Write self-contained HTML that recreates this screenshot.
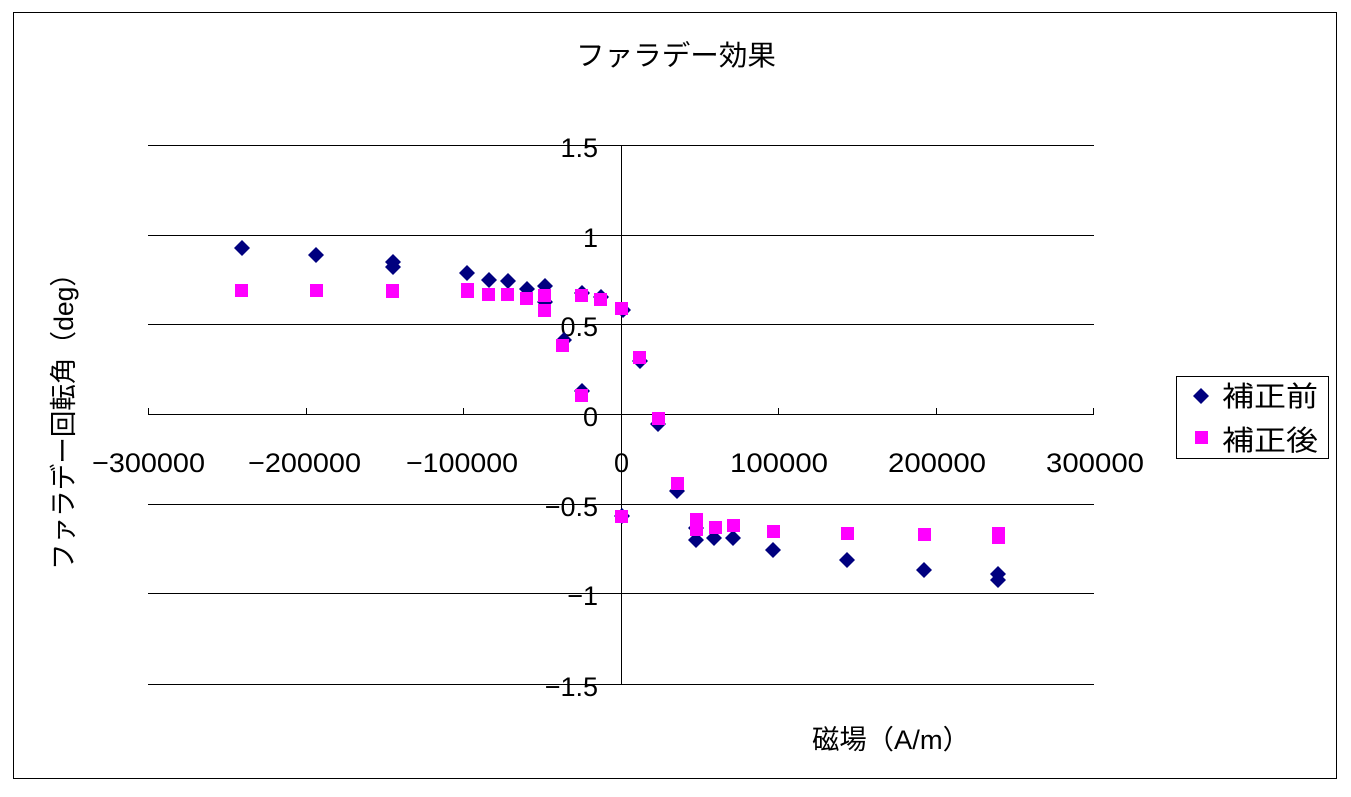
<!DOCTYPE html>
<html><head><meta charset="utf-8"><style>
body{margin:0;background:#fff}
svg text{font-family:"Liberation Sans","Noto Sans CJK JP",sans-serif;fill:#000}
</style></head><body>
<svg width="1351" height="792" xmlns="http://www.w3.org/2000/svg">
<rect x="0" y="0" width="1351" height="792" fill="#fff"/>
<rect x="13.5" y="12.5" width="1323" height="766" fill="none" stroke="#000" stroke-width="1"/>
<text x="576" y="65" font-size="28" textLength="200" lengthAdjust="spacingAndGlyphs">ファラデー効果</text>
<g stroke="#000" stroke-width="1">
<line x1="148" y1="145.5" x2="1094" y2="145.5"/>
<line x1="148" y1="235.5" x2="1094" y2="235.5"/>
<line x1="148" y1="324.5" x2="1094" y2="324.5"/>
<line x1="148" y1="414.5" x2="1094" y2="414.5"/>
<line x1="148" y1="504.5" x2="1094" y2="504.5"/>
<line x1="148" y1="593.5" x2="1094" y2="593.5"/>
<line x1="148" y1="684.5" x2="1094" y2="684.5"/>
<line x1="621.5" y1="145" x2="621.5" y2="684"/>
<line x1="148.5" y1="408" x2="148.5" y2="414"/>
<line x1="306.5" y1="408" x2="306.5" y2="414"/>
<line x1="463.5" y1="408" x2="463.5" y2="414"/>
<line x1="778.5" y1="408" x2="778.5" y2="414"/>
<line x1="936.5" y1="408" x2="936.5" y2="414"/>
<line x1="1093.5" y1="408" x2="1093.5" y2="414"/>
</g>
<g font-size="27" text-anchor="end">
<text x="598" y="157">1.5</text>
<text x="598" y="247">1</text>
<text x="598" y="336">0.5</text>
<text x="598" y="426">0</text>
<text x="598" y="516">−0.5</text>
<text x="598" y="605">−1</text>
<text x="598" y="696">−1.5</text>
</g>
<g font-size="27">
<text x="92" y="472" textLength="113" lengthAdjust="spacingAndGlyphs">−300000</text>
<text x="248" y="472" textLength="113" lengthAdjust="spacingAndGlyphs">−200000</text>
<text x="406" y="472" textLength="112" lengthAdjust="spacingAndGlyphs">−100000</text>
<text x="614" y="472">0</text>
<text x="730" y="472" textLength="98" lengthAdjust="spacingAndGlyphs">100000</text>
<text x="888" y="472" textLength="98" lengthAdjust="spacingAndGlyphs">200000</text>
<text x="1046" y="472" textLength="98" lengthAdjust="spacingAndGlyphs">300000</text>
</g>
<text x="812" y="749" font-size="27" textLength="158" lengthAdjust="spacingAndGlyphs">磁場（A/m）</text>
<text transform="translate(73,570) rotate(-90)" font-size="27" textLength="310" lengthAdjust="spacingAndGlyphs">ファラデー回転角（deg）</text>
<g fill="#00007f">
<path d="M0,-8 L8,0 L0,8 L-8,0Z" transform="translate(242,248)"/>
<path d="M0,-8 L8,0 L0,8 L-8,0Z" transform="translate(316,255)"/>
<path d="M0,-8 L8,0 L0,8 L-8,0Z" transform="translate(393,262)"/>
<path d="M0,-8 L8,0 L0,8 L-8,0Z" transform="translate(393,267)"/>
<path d="M0,-8 L8,0 L0,8 L-8,0Z" transform="translate(467,273)"/>
<path d="M0,-8 L8,0 L0,8 L-8,0Z" transform="translate(489,280)"/>
<path d="M0,-8 L8,0 L0,8 L-8,0Z" transform="translate(508,281)"/>
<path d="M0,-8 L8,0 L0,8 L-8,0Z" transform="translate(527,289)"/>
<path d="M0,-8 L8,0 L0,8 L-8,0Z" transform="translate(545,286)"/>
<path d="M0,-8 L8,0 L0,8 L-8,0Z" transform="translate(545,302)"/>
<path d="M0,-8 L8,0 L0,8 L-8,0Z" transform="translate(564,340)"/>
<path d="M0,-8 L8,0 L0,8 L-8,0Z" transform="translate(582,391)"/>
<path d="M0,-8 L8,0 L0,8 L-8,0Z" transform="translate(582,293)"/>
<path d="M0,-8 L8,0 L0,8 L-8,0Z" transform="translate(601,297)"/>
<path d="M0,-8 L8,0 L0,8 L-8,0Z" transform="translate(623,310)"/>
<path d="M0,-8 L8,0 L0,8 L-8,0Z" transform="translate(640,361)"/>
<path d="M0,-8 L8,0 L0,8 L-8,0Z" transform="translate(658,424)"/>
<path d="M0,-8 L8,0 L0,8 L-8,0Z" transform="translate(677,491)"/>
<path d="M0,-8 L8,0 L0,8 L-8,0Z" transform="translate(622,516)"/>
<path d="M0,-8 L8,0 L0,8 L-8,0Z" transform="translate(696,540)"/>
<path d="M0,-8 L8,0 L0,8 L-8,0Z" transform="translate(696,528)"/>
<path d="M0,-8 L8,0 L0,8 L-8,0Z" transform="translate(714,538)"/>
<path d="M0,-8 L8,0 L0,8 L-8,0Z" transform="translate(733,538)"/>
<path d="M0,-8 L8,0 L0,8 L-8,0Z" transform="translate(773,550)"/>
<path d="M0,-8 L8,0 L0,8 L-8,0Z" transform="translate(847,560)"/>
<path d="M0,-8 L8,0 L0,8 L-8,0Z" transform="translate(924,570)"/>
<path d="M0,-8 L8,0 L0,8 L-8,0Z" transform="translate(998,574)"/>
<path d="M0,-8 L8,0 L0,8 L-8,0Z" transform="translate(998,580)"/>
</g>
<g fill="#ff00ff">
<rect x="235" y="284" width="13" height="13"/>
<rect x="310" y="284" width="13" height="13"/>
<rect x="386" y="284" width="13" height="13"/>
<rect x="386" y="286" width="13" height="12"/>
<rect x="461" y="283" width="13" height="13"/>
<rect x="461" y="286" width="13" height="12"/>
<rect x="482" y="288" width="13" height="13"/>
<rect x="501" y="288" width="13" height="13"/>
<rect x="520" y="292" width="13" height="13"/>
<rect x="538" y="289" width="13" height="13"/>
<rect x="538" y="304" width="13" height="13"/>
<rect x="556" y="339" width="13" height="13"/>
<rect x="575" y="289" width="13" height="13"/>
<rect x="575" y="389" width="13" height="13"/>
<rect x="594" y="293" width="13" height="13"/>
<rect x="615" y="302" width="13" height="13"/>
<rect x="633" y="351" width="13" height="13"/>
<rect x="652" y="412" width="13" height="13"/>
<rect x="671" y="477" width="13" height="13"/>
<rect x="615" y="510" width="13" height="13"/>
<rect x="690" y="513" width="13" height="13"/>
<rect x="690" y="523" width="13" height="13"/>
<rect x="709" y="521" width="13" height="13"/>
<rect x="727" y="519" width="13" height="13"/>
<rect x="767" y="525" width="13" height="13"/>
<rect x="841" y="527" width="13" height="13"/>
<rect x="918" y="528" width="13" height="13"/>
<rect x="992" y="527" width="13" height="13"/>
<rect x="992" y="531" width="13" height="13"/>
</g>
<rect x="1176.5" y="376.5" width="152" height="82" fill="#fff" stroke="#000"/>
<path d="M0,-8 L8,0 L0,8 L-8,0Z" transform="translate(1201,396)" fill="#00007f"/>
<rect x="1195" y="431" width="13" height="13" fill="#ff00ff"/>
<text x="1222" y="406" font-size="28" textLength="96" lengthAdjust="spacingAndGlyphs">補正前</text>
<text x="1222" y="450" font-size="28" textLength="96" lengthAdjust="spacingAndGlyphs">補正後</text>
</svg>
</body></html>
